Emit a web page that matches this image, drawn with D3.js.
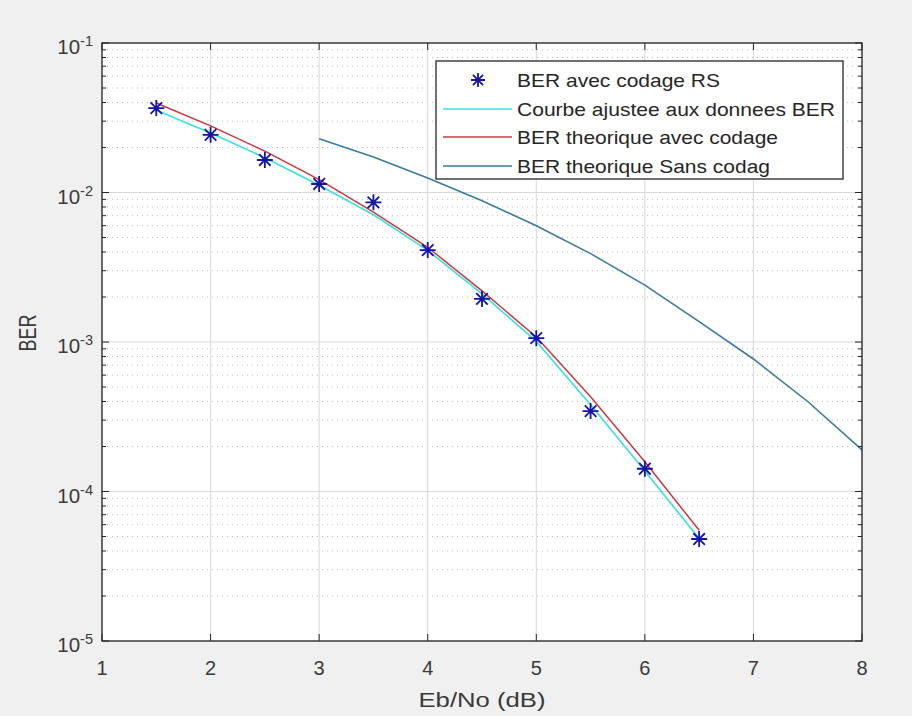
<!DOCTYPE html>
<html>
<head>
<meta charset="utf-8">
<script src="https://cdn.jsdelivr.net/npm/d3@7"></script>
<style>
  body { margin: 0; background: #f0f0f0; }
  svg { display: block; font-family: "Liberation Sans", Arial, sans-serif; }
</style>
</head>
<body>
<script>
// Eb/No values (dB) of the simulated points and curves
const ebnoCoded = [1.5, 2, 2.5, 3, 3.5, 4, 4.5, 5, 5.5, 6, 6.5];
const berSimRS = [0.0367, 0.0243, 0.0165, 0.0114, 0.0086, 0.00412, 0.00194, 0.00106, 0.000345, 0.000142, 0.0000481];
const berFit = [0.0355, 0.0250, 0.0171, 0.0112, 0.0071, 0.0041, 0.0021, 0.00101, 0.00038, 0.000137, 0.0000485];
const berTheoCoded = [0.0397, 0.0279, 0.0189, 0.0122, 0.0074, 0.0043, 0.0022, 0.00108, 0.00043, 0.000158, 0.000055];
const ebnoUncoded = [3, 3.5, 4, 4.5, 5, 5.5, 6, 6.5, 7, 7.5, 8];
const berUncoded = [0.0229, 0.0173, 0.0125, 0.0088, 0.0060, 0.0039, 0.0024, 0.00137, 0.00077, 0.00040, 0.00019];

const xTicks = [1, 2, 3, 4, 5, 6, 7, 8];
const yDecades = [-5, -4, -3, -2, -1];
const legendLabels = ["BER avec codage RS", "Courbe ajustee aux donnees BER", "BER theorique avec codage", "BER theorique Sans codag"];

const width = 912, height = 716;
const pLeft = 102, pRight = 862, pTop = 43, pBottom = 641;
const textColor = "#3a3a3a";

const svg = d3.select("body").append("svg")
    .attr("width", width)
    .attr("height", height);

svg.append("rect").attr("width", width).attr("height", height).attr("fill", "#f0f0f0");
svg.append("rect")
    .attr("x", pLeft).attr("y", pTop)
    .attr("width", pRight - pLeft).attr("height", pBottom - pTop)
    .attr("fill", "#ffffff");

const x = d3.scaleLinear().domain([1, 8]).range([pLeft, pRight]);
const y = d3.scaleLog().domain([1e-5, 1e-1]).range([pBottom, pTop]);

// minor values of the log axis
const minorVals = [];
yDecades.slice(0, -1).forEach(e => {
    for (let m = 2; m <= 9; m++) minorVals.push(m * Math.pow(10, e));
});

// grid
const grid = svg.append("g");
grid.selectAll(".minor")
    .data(minorVals)
    .enter().append("line")
    .attr("x1", pLeft).attr("x2", pRight)
    .attr("y1", d => y(d)).attr("y2", d => y(d))
    .attr("stroke", "#bdbdbd")
    .attr("stroke-dasharray", "1,4");
grid.selectAll(".majy")
    .data(yDecades.map(e => Math.pow(10, e)))
    .enter().append("line")
    .attr("x1", pLeft).attr("x2", pRight)
    .attr("y1", d => y(d)).attr("y2", d => y(d))
    .attr("stroke", "#d9d9d9");
grid.selectAll(".majx")
    .data(xTicks)
    .enter().append("line")
    .attr("x1", d => x(d)).attr("x2", d => x(d))
    .attr("y1", pTop).attr("y2", pBottom)
    .attr("stroke", "#d9d9d9");

// curves
const line = d3.line().x(d => x(d[0])).y(d => y(d[1]));
const zip = (a, b) => a.map((v, i) => [v, b[i]]);

svg.append("path")
    .attr("d", line(zip(ebnoCoded, berFit)))
    .attr("fill", "none").attr("stroke", "#3fe0e0").attr("stroke-width", 1.7);
svg.append("path")
    .attr("d", line(zip(ebnoCoded, berTheoCoded)))
    .attr("fill", "none").attr("stroke", "#cc3840").attr("stroke-width", 1.5);
svg.append("path")
    .attr("d", line(zip(ebnoUncoded, berUncoded)))
    .attr("fill", "none").attr("stroke", "#3a7c9e").attr("stroke-width", 1.6);

// asterisk marker
function star(g, cx, cy, r) {
    const s = r * 0.72;
    const p = `M${cx - r},${cy}L${cx + r},${cy}M${cx},${cy - r}L${cx},${cy + r}` +
        `M${cx - s},${cy - s}L${cx + s},${cy + s}M${cx - s},${cy + s}L${cx + s},${cy - s}`;
    g.append("path").attr("d", p).attr("stroke", "#1414a8").attr("stroke-width", 1.8).attr("fill", "none");
}
const markers = svg.append("g");
zip(ebnoCoded, berSimRS).forEach(d => star(markers, x(d[0]), y(d[1]), 8));

// axes box and ticks
const axis = svg.append("g").attr("stroke", "#262626");
axis.append("rect")
    .attr("x", pLeft).attr("y", pTop)
    .attr("width", pRight - pLeft).attr("height", pBottom - pTop)
    .attr("fill", "none").attr("stroke-width", 1.3);
xTicks.forEach(v => {
    axis.append("line").attr("x1", x(v)).attr("x2", x(v)).attr("y1", pBottom).attr("y2", pBottom - 7);
    axis.append("line").attr("x1", x(v)).attr("x2", x(v)).attr("y1", pTop).attr("y2", pTop + 7);
});
yDecades.forEach(e => {
    const yy = y(Math.pow(10, e));
    axis.append("line").attr("x1", pLeft).attr("x2", pLeft + 7).attr("y1", yy).attr("y2", yy);
    axis.append("line").attr("x1", pRight).attr("x2", pRight - 7).attr("y1", yy).attr("y2", yy);
});
minorVals.forEach(v => {
    const yy = y(v);
    axis.append("line").attr("x1", pLeft).attr("x2", pLeft + 4).attr("y1", yy).attr("y2", yy);
    axis.append("line").attr("x1", pRight).attr("x2", pRight - 4).attr("y1", yy).attr("y2", yy);
});

// tick labels
svg.selectAll(".xl")
    .data(xTicks)
    .enter().append("text")
    .attr("x", d => x(d)).attr("y", 675)
    .attr("text-anchor", "middle")
    .attr("font-size", 20).attr("fill", textColor)
    .text(d => d);

yDecades.forEach(e => {
    const t = svg.append("text")
        .attr("x", 93).attr("y", y(Math.pow(10, e)) + 11)
        .attr("text-anchor", "end")
        .attr("font-size", 20.5).attr("fill", textColor);
    t.append("tspan").text("10");
    t.append("tspan").attr("dy", -8).attr("font-size", 14.5).text(String(e));
});

// axis titles
svg.append("text")
    .attr("x", (pLeft + pRight) / 2).attr("y", 707)
    .attr("text-anchor", "middle")
    .attr("font-size", 20).attr("fill", textColor)
    .attr("textLength", 127).attr("lengthAdjust", "spacingAndGlyphs")
    .text("Eb/No (dB)");
svg.append("text")
    .attr("transform", "translate(36,333) rotate(-90)")
    .attr("text-anchor", "middle")
    .attr("font-size", 24).attr("fill", textColor)
    .attr("textLength", 37).attr("lengthAdjust", "spacingAndGlyphs")
    .text("BER");

// legend
const lg = svg.append("g");
lg.append("rect")
    .attr("x", 436).attr("y", 61)
    .attr("width", 407).attr("height", 118)
    .attr("fill", "#ffffff").attr("stroke", "#262626").attr("stroke-width", 1.3);
const legendRows = [80, 109, 137, 166];
const legendColors = [null, "#3fe0e0", "#cc3840", "#3a7c9e"];
const legendWidths = [203, 318, 261, 253];
legendLabels.forEach((lab, i) => {
    const ly = legendRows[i];
    if (i === 0) {
        star(lg, 478, ly, 7);
    } else {
        lg.append("line")
            .attr("x1", 443).attr("x2", 512).attr("y1", ly).attr("y2", ly)
            .attr("stroke", legendColors[i]).attr("stroke-width", 1.7);
    }
    lg.append("text")
        .attr("x", 517).attr("y", ly + 7)
        .attr("font-size", 19).attr("fill", "#262626")
        .attr("textLength", legendWidths[i]).attr("lengthAdjust", "spacingAndGlyphs")
        .text(lab);
});
</script>
</body>
</html>
